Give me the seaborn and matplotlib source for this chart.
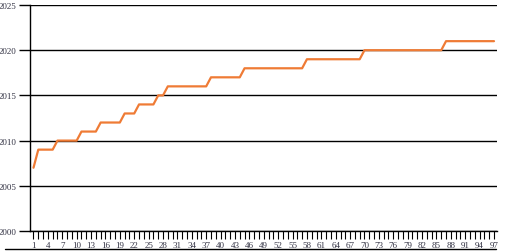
import matplotlib
matplotlib.use("Agg")
import matplotlib.pyplot as plt
import seaborn as sns
import pandas as pd
from matplotlib.lines import Line2D

# year reached at each step index (1..97)
step_years = [2007, 2009, 2010, 2011, 2012, 2013, 2014, 2015, 2016, 2017, 2018, 2019, 2020, 2021]
step_lengths = [1, 4, 5, 4, 5, 3, 4, 2, 9, 7, 13, 12, 17, 11]
y_ticks = [2000, 2005, 2010, 2015, 2020, 2025]

years = []
for yr, n in zip(step_years, step_lengths):
    years += [yr] * n
index = list(range(1, len(years) + 1))
df = pd.DataFrame({"index": index, "year": years})

sns.set_style("white")
plt.rcParams['font.family'] = ['Liberation Serif', 'DejaVu Serif']

fig = plt.figure(figsize=(5.09, 2.53), dpi=100)
ax = fig.add_axes([30 / 509, 21 / 253, 467 / 509, 226 / 253])

sns.lineplot(data=df, x="index", y="year", ax=ax, color="#EF7B35", linewidth=1.6)

ax.set_ylim(2000, 2025)
ax.set_xlim(1 - 3.5 / 4.8, 97 + 3 / 4.8)
ax.set_yticks(y_ticks)
ax.set_yticklabels([str(t) for t in y_ticks], fontsize=6.5, color="#333344")
ax.set_xticks(index)
ax.set_xticklabels([str(i) if (i - 1) % 3 == 0 else "" for i in index],
                   fontsize=6.5, color="#333344")
ax.tick_params(axis="y", length=8, width=1, color="black", pad=1.5, left=True)
ax.tick_params(axis="x", length=6, width=0.8, color="black", pad=1, bottom=True)
ax.grid(axis="y", color="black", linewidth=1)
ax.set_axisbelow(True)
ax.set_xlabel("")
ax.set_ylabel("")
for side in ["top", "right"]:
    ax.spines[side].set_visible(False)
for side in ["left", "bottom"]:
    ax.spines[side].set_color("black")
    ax.spines[side].set_linewidth(1)

# rule under the axis labels
fig.add_artist(Line2D([5 / 509, 496 / 509], [3 / 253, 3 / 253], color="black", linewidth=1))

fig.savefig("out.png", dpi=100)
